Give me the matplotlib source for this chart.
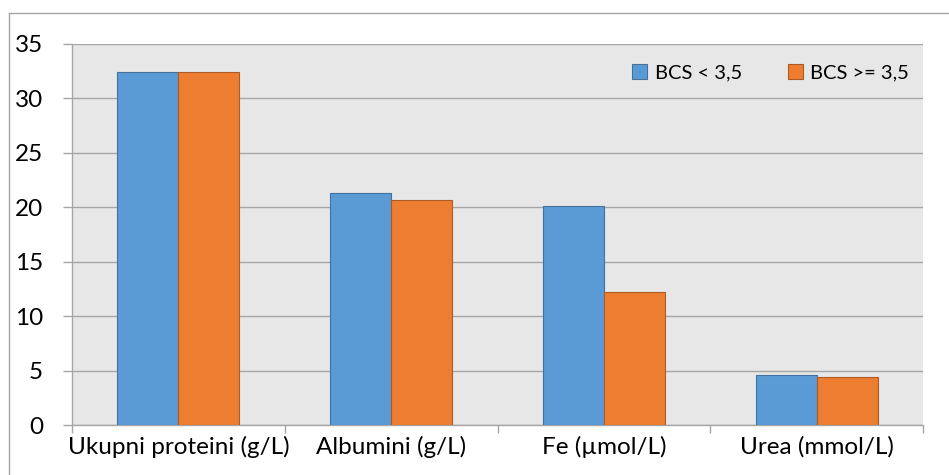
import matplotlib.pyplot as plt
import numpy as np
from matplotlib.lines import Line2D

plt.rcParams['font.family'] = ['Lato', 'DejaVu Sans']

categories = ['Ukupni proteini (g/L)', 'Albumini (g/L)', 'Fe (µmol/L)', 'Urea (mmol/L)']
bcs_low = [32.4, 21.3, 20.1, 4.6]
bcs_high = [32.4, 20.7, 12.2, 4.45]
series_names = ['BCS < 3,5', 'BCS >= 3,5']

W, H = 949, 475
fig = plt.figure(figsize=(9.49, 4.75), dpi=100)
ax = fig.add_axes([72 / W, 1 - 425 / H, (923 - 72) / W, (425 - 44) / H])

bg = '#E7E7E7'
grid = '#A6A6A6'
ax.set_facecolor(bg)

x = np.arange(len(categories))
bw = 0.287
ax.bar(x - bw / 2, bcs_low, bw, color='#5B9BD5', edgecolor='#41719C', linewidth=0.8,
       label=series_names[0], zorder=3)
ax.bar(x + bw / 2, bcs_high, bw, color='#ED7D31', edgecolor='#AE5A21', linewidth=0.8,
       label=series_names[1], zorder=3)

ax.set_xlim(-0.5, len(categories) - 0.5)
ax.set_ylim(0, 35)
ax.set_yticks(range(0, 36, 5))
ax.yaxis.grid(True, color=grid, linewidth=1, zorder=0)
ax.set_axisbelow(True)

# sizes in points (px * 0.72)
ax.set_xticks(x)
ax.set_xticklabels(categories, fontsize=17.5)
ax.set_xticks(np.arange(-0.5, len(categories)), minor=True)
ax.tick_params(axis='x', which='major', length=0, pad=8)
ax.tick_params(axis='x', which='minor', length=5.8, color=grid, width=1)
ax.tick_params(axis='y', length=6.5, color=grid, width=1, labelsize=17.5, pad=14.4)

for s in ['top', 'right']:
    ax.spines[s].set_visible(False)
for s in ['left', 'bottom']:
    ax.spines[s].set_color(grid)
    ax.spines[s].set_linewidth(1)

ax.legend(loc='upper right', bbox_to_anchor=(1.005, 0.995), ncol=2, frameon=False,
          fontsize=14.5, handlelength=0.75, handleheight=0.75, handletextpad=0.35,
          columnspacing=2.3)

# outer chart border (left and top)
fig.add_artist(Line2D([9 / W, 9 / W], [0, 1 - 13 / H], transform=fig.transFigure,
                      color='#A6A6A6', linewidth=1))
fig.add_artist(Line2D([9 / W, 1], [1 - 13 / H, 1 - 13 / H], transform=fig.transFigure,
                      color='#A6A6A6', linewidth=1))

fig.savefig('out.png', dpi=100)
